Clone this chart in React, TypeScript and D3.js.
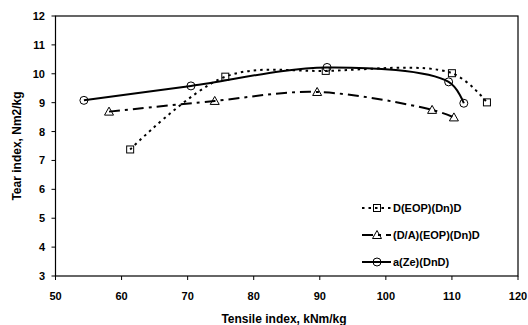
import React from "react";
import * as d3 from "d3";

const xTicks = [50, 60, 70, 80, 90, 100, 110, 120];
const yTicks = [3, 4, 5, 6, 7, 8, 9, 10, 11, 12];

const seriesNames = ["D(EOP)(Dn)D", "(D/A)(EOP)(Dn)D", "a(Ze)(DnD)"];
const sqX = [61.3, 75.7, 90.9, 110.0, 115.3];
const sqY = [7.38, 9.9, 10.1, 10.02, 9.01];
const triX = [58.1, 74.1, 89.6, 107.0, 110.3];
const triY = [8.69, 9.06, 9.37, 8.75, 8.49];
const cirX = [54.3, 70.5, 91.1, 109.5, 111.8];
const cirY = [9.08, 9.58, 10.22, 9.72, 8.98];

const W = 528, H = 325;
const L = 55.5, R = 518, T = 16, B = 276;

export default function App() {
  const x = d3.scaleLinear().domain([50, 120]).range([L, R]);
  const y = d3.scaleLinear().domain([3, 12]).range([B, T]);
  const line = d3
    .line<[number, number]>()
    .x((d) => x(d[0]))
    .y((d) => y(d[1]))
    .curve(d3.curveCatmullRom.alpha(0.5));

  const zip = (a: number[], b: number[]) => a.map((v, i) => [v, b[i]] as [number, number]);
  const series = [
    { name: seriesNames[0], pts: zip(sqX, sqY), dash: "2.5 4", marker: "square" },
    { name: seriesNames[1], pts: zip(triX, triY), dash: "11 5 3 5", marker: "triangle" },
    { name: seriesNames[2], pts: zip(cirX, cirY), dash: "", marker: "circle" },
  ];

  const marker = (m: string, cx: number, cy: number, key: any) => {
    if (m === "square")
      return <rect key={key} x={cx - 3.5} y={cy - 3.5} width={7} height={7} fill="none" stroke="#000" strokeWidth={1} />;
    if (m === "triangle")
      return (
        <path key={key} d={`M${cx},${cy - 4.5}L${cx + 4.5},${cy + 3.5}L${cx - 4.5},${cy + 3.5}Z`} fill="none" stroke="#000" strokeWidth={1} />
      );
    return <circle key={key} cx={cx} cy={cy} r={4} fill="none" stroke="#000" strokeWidth={1} />;
  };

  const font = "Liberation Sans, Arial, sans-serif";
  const legY = [208, 235, 262];

  return (
    <svg width={W} height={H} style={{ position: "absolute", left: 0, top: 0 }} fontFamily={font}>
      <rect x={0} y={0} width={W} height={H} fill="#fff" />
      <rect x={L} y={T} width={R - L} height={B - T} fill="none" stroke="#000" strokeWidth={1.2} />
      {xTicks.map((t) => (
        <g key={"x" + t}>
          <line x1={x(t)} x2={x(t)} y1={B} y2={B + 4} stroke="#000" />
          <text x={x(t)} y={B + 24} textAnchor="middle" fontSize={11} fontWeight="bold">{t}</text>
        </g>
      ))}
      {yTicks.map((t) => (
        <g key={"y" + t}>
          <line x1={L - 4} x2={L} y1={y(t)} y2={y(t)} stroke="#000" />
          <text x={45} y={y(t) + 4} textAnchor="end" fontSize={11} fontWeight="bold">{t}</text>
        </g>
      ))}
      <text x={284} y={323} textAnchor="middle" fontSize={12} fontWeight="bold">Tensile index, kNm/kg</text>
      <text transform={`translate(21,146) rotate(-90)`} textAnchor="middle" fontSize={12} fontWeight="bold">Tear index, Nm2/kg</text>
      {series.map((s, i) => (
        <g key={"s" + i}>
          <path d={line(s.pts) || ""} fill="none" stroke="#000" strokeWidth={2} strokeDasharray={s.dash} />
          {s.pts.map((p, j) => marker(s.marker, x(p[0]), y(p[1]), j))}
        </g>
      ))}
      {series.map((s, i) => (
        <g key={"l" + i}>
          <line x1={362} x2={391} y1={legY[i]} y2={legY[i]} stroke="#000" strokeWidth={2} strokeDasharray={s.dash} />
          {marker(s.marker, 377, legY[i], "m")}
          <text x={393} y={legY[i] + 4} fontSize={11} fontWeight="bold">{s.name}</text>
        </g>
      ))}
    </svg>
  );
}
